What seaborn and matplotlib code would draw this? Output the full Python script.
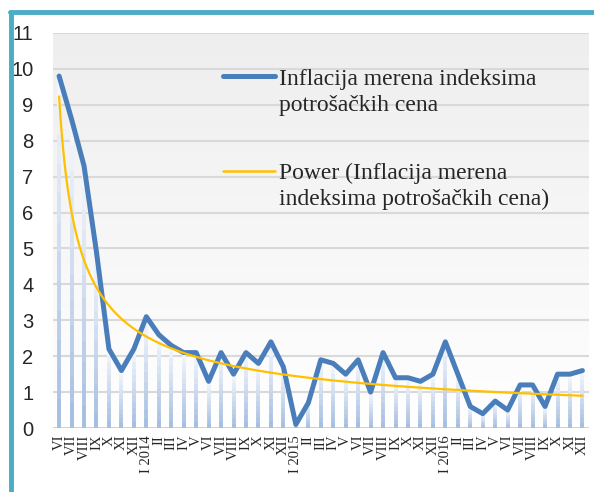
import numpy as np
import pandas as pd
import matplotlib
matplotlib.use("Agg")
from matplotlib import pyplot as plt
from matplotlib.collections import LineCollection
from matplotlib.colors import LinearSegmentedColormap, to_rgb
from matplotlib.lines import Line2D
import seaborn as sns

# monthly labels, VI 2013 - XII 2016
months = ["VI", "VII", "VIII", "IX", "X", "XI", "XII",
          "I 2014", "II", "III", "IV", "V", "VI", "VII", "VIII", "IX", "X", "XI", "XII",
          "I 2015", "II", "III", "IV", "V", "VI", "VII", "VIII", "IX", "X", "XI", "XII",
          "I 2016", "II", "III", "IV", "V", "VI", "VII", "VIII", "IX", "X", "XI", "XII"]
inflation = [9.8, 8.6, 7.3, 4.9, 2.2, 1.6, 2.2,
             3.1, 2.6, 2.3, 2.1, 2.1, 1.3, 2.1, 1.5, 2.1, 1.8, 2.4, 1.7,
             0.1, 0.7, 1.9, 1.8, 1.5, 1.9, 1.0, 2.1, 1.4, 1.4, 1.3, 1.5,
             2.4, 1.5, 0.6, 0.4, 0.75, 0.5, 1.2, 1.2, 0.6, 1.5, 1.5, 1.6]
y_ticks = list(range(0, 12))

label_main = ["Inflacija merena indeksima", "potrošačkih cena"]
label_trend = ["Power (Inflacija merena", "indeksima potrošačkih cena)"]

blue = "#4A7EBB"
gold = "#FFC000"
teal = "#4BACC6"

df = pd.DataFrame({"pos": np.arange(len(months)), "value": inflation})

# power trendline, fitted like Excel does (least squares on logs)
xn = df["pos"].values + 1.0
b, lna = np.polyfit(np.log(xn), np.log(df["value"].values), 1)
xs = np.linspace(1, len(months), 300)
trend = np.exp(lna) * xs ** b

sns.set_style("white")
plt.rcParams["font.family"] = ["Liberation Serif", "DejaVu Serif"]

fig = plt.figure(figsize=(5.94, 4.92), dpi=100)
ax = fig.add_axes([0.089, 0.130, 0.902, 0.803])

# plot-area gradient background
grad = LinearSegmentedColormap.from_list("bg", ["#ffffff", "#eeeeee"])
ax.imshow(np.linspace(0, 1, 100).reshape(-1, 1), cmap=grad, aspect="auto",
          extent=[-0.5, len(months) - 0.5, 11, 0], zorder=0)

# gradient drop lines
c_top = np.array(to_rgb("#f7f9fd"))
c_bot = np.array(to_rgb("#a3bce0"))
segs, cols = [], []
n = 12
for p, v in zip(df["pos"], df["value"]):
    for k in range(n):
        y0, y1 = v * k / n, v * (k + 1) / n
        segs.append([(p, y0), (p, y1)])
        t = (k + 0.5) / n
        cols.append(c_bot * (1 - t) + c_top * t)
ax.add_collection(LineCollection(segs, colors=cols, linewidths=2.8, zorder=2))

sns.lineplot(data=df, x="pos", y="value", ax=ax, color=blue, linewidth=3.6,
             zorder=4, solid_joinstyle="round", solid_capstyle="round")
ax.plot(xs - 1, trend, color=gold, linewidth=1.6, zorder=5)

ax.set_xlim(-0.5, len(months) - 0.5)
ax.set_ylim(0, 11)
ax.set_yticks(y_ticks)
ax.set_yticklabels([str(t) for t in y_ticks], family="Liberation Sans", fontsize=14.5)
ax.set_xticks(df["pos"])
ax.set_xticklabels(months, rotation=90, fontsize=10.5, va="top")
ax.tick_params(axis="y", length=0, pad=14)
ax.tick_params(axis="x", length=3, width=0.8, color="#d0d0d0", pad=2)
ax.set_xlabel("")
ax.set_ylabel("")
ax.grid(axis="y", color="#d9d9d9", linewidth=1.5)
ax.set_axisbelow(True)
for s in ax.spines.values():
    s.set_visible(False)
ax.axhline(0, color="#d0d0d0", linewidth=1.2, zorder=1)

# legend, one row per text line so the handle sits on the first line
blank = Line2D([], [], color="none")
handles = [Line2D([], [], color=blue, linewidth=3.6), blank, blank,
           Line2D([], [], color=gold, linewidth=1.8), blank]
labels = [label_main[0], label_main[1], " ", label_trend[0], label_trend[1]]
leg = ax.legend(handles, labels, loc="upper left", bbox_to_anchor=(0.295, 0.941),
                frameon=False, prop={"family": "Liberation Serif", "size": 17},
                handlelength=2.2, handletextpad=0.2, labelspacing=0.2, borderpad=0)
leg.get_texts()[2].set_fontsize(29)

# teal frame on top and left
fig.add_artist(Line2D([0.018, 0.018], [0.0, 0.975], color=teal, linewidth=3.5,
                      transform=fig.transFigure))
fig.add_artist(Line2D([0.016, 1.0], [0.975, 0.975], color=teal, linewidth=3.5,
                      transform=fig.transFigure))

fig.savefig("out.png", dpi=100)
